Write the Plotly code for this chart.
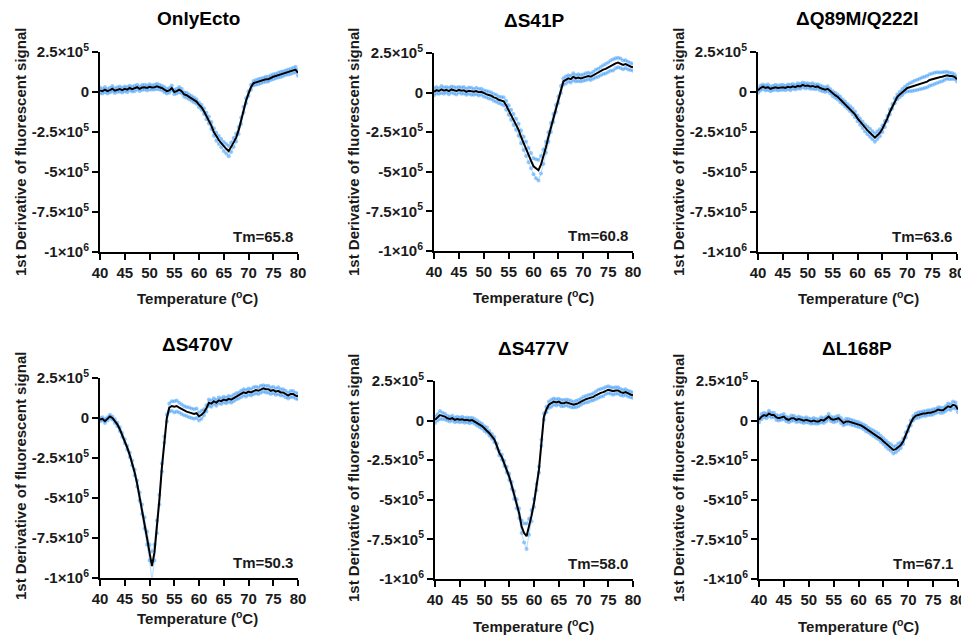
import plotly.graph_objects as go

# ---------------- data (units of 1e5) ----------------
temps = [t / 2 for t in range(80, 161)]  # 40.0 .. 80.0 °C, 0.5 °C steps

panel_titles = ["OnlyEcto", "ΔS41P", "ΔQ89M/Q222I", "ΔS470V", "ΔS477V", "ΔL168P"]
tm_values = ["65.8", "60.8", "63.6", "50.3", "58.0", "67.1"]

mean_onlyecto = [
    0.10, 0.05, 0.15, 0.05, 0.12, 0.20, 0.08, 0.15, 0.18, 0.12,
    0.20, 0.15, 0.25, 0.18, 0.22, 0.30, 0.20, 0.28, 0.30, 0.25,
    0.32, 0.28, 0.30, 0.35, 0.30, 0.25, 0.15, 0.05, 0.10, 0.25,
    0.00, 0.05, 0.15, 0.05, -0.15, -0.20, -0.30, -0.40, -0.50, -0.60,
    -0.80, -0.95, -1.20, -1.50, -1.75, -2.10, -2.50, -2.80, -3.00, -3.20,
    -3.40, -3.55, -3.70, -3.45, -3.15, -2.85, -2.40, -1.80, -1.10, -0.55,
    -0.10, 0.30, 0.55, 0.60, 0.65, 0.70, 0.75, 0.80, 0.80, 0.90,
    0.95, 1.00, 1.05, 1.10, 1.15, 1.20, 1.25, 1.28, 1.35, 1.40,
    1.20]
spread_onlyecto = [
    0.18, 0.15, 0.16, 0.14, 0.15, 0.17, 0.15, 0.14, 0.16, 0.15,
    0.15, 0.16, 0.14, 0.15, 0.17, 0.15, 0.14, 0.16, 0.15, 0.15,
    0.16, 0.14, 0.15, 0.17, 0.15, 0.14, 0.16, 0.15, 0.15, 0.16,
    0.14, 0.15, 0.17, 0.15, 0.14, 0.16, 0.15, 0.15, 0.16, 0.14,
    0.15, 0.16, 0.18, 0.20, 0.22, 0.22, 0.24, 0.25, 0.25, 0.26,
    0.28, 0.30, 0.32, 0.30, 0.28, 0.25, 0.22, 0.20, 0.18, 0.16,
    0.15, 0.16, 0.14, 0.15, 0.17, 0.15, 0.14, 0.16, 0.15, 0.15,
    0.16, 0.14, 0.15, 0.17, 0.15, 0.14, 0.16, 0.15, 0.17, 0.18,
    0.18]

mean_s41p = [
    0.05, 0.15, 0.10, 0.20, 0.12, 0.18, 0.10, 0.20, 0.15, 0.10,
    0.18, 0.12, 0.15, 0.05, 0.12, 0.08, 0.05, 0.10, 0.02, 0.05,
    -0.05, -0.10, -0.15, -0.20, -0.30, -0.35, -0.45, -0.50, -0.55, -0.80,
    -1.10, -1.40, -1.70, -2.00, -2.35, -2.80, -3.20, -3.55, -3.95, -4.30,
    -4.65, -4.80, -4.90, -4.55, -4.05, -3.45, -2.80, -2.20, -1.60, -1.00,
    -0.45, 0.20, 0.70, 0.80, 0.90, 0.85, 1.00, 0.90, 0.95, 0.90,
    0.95, 1.00, 1.05, 1.00, 1.10, 1.20, 1.25, 1.35, 1.45, 1.50,
    1.60, 1.70, 1.75, 1.85, 1.90, 1.85, 1.75, 1.80, 1.70, 1.65,
    1.60]
spread_s41p = [
    0.22, 0.20, 0.18, 0.22, 0.20, 0.18, 0.21, 0.19, 0.20, 0.22,
    0.18, 0.20, 0.21, 0.19, 0.20, 0.22, 0.18, 0.20, 0.21, 0.19,
    0.20, 0.20, 0.22, 0.20, 0.21, 0.22, 0.20, 0.22, 0.25, 0.28,
    0.30, 0.32, 0.35, 0.35, 0.38, 0.40, 0.42, 0.45, 0.45, 0.48,
    0.50, 0.60, 0.65, 0.55, 0.45, 0.35, 0.30, 0.28, 0.25, 0.22,
    0.20, 0.22, 0.20, 0.22, 0.20, 0.21, 0.22, 0.20, 0.21, 0.20,
    0.20, 0.22, 0.20, 0.21, 0.22, 0.24, 0.25, 0.26, 0.28, 0.30,
    0.30, 0.32, 0.35, 0.32, 0.30, 0.30, 0.28, 0.25, 0.24, 0.22,
    0.22]

mean_q89m = [
    0.10, 0.25, 0.33, 0.25, 0.30, 0.20, 0.25, 0.30, 0.25, 0.28,
    0.30, 0.25, 0.32, 0.28, 0.35, 0.30, 0.38, 0.35, 0.45, 0.38,
    0.40, 0.35, 0.38, 0.32, 0.35, 0.25, 0.20, 0.15, 0.20, 0.05,
    -0.10, -0.20, -0.30, -0.45, -0.60, -0.75, -0.90, -1.05, -1.20, -1.40,
    -1.65, -1.85, -2.05, -2.25, -2.40, -2.55, -2.70, -2.85, -2.70, -2.55,
    -2.30, -2.00, -1.65, -1.25, -0.90, -0.55, -0.30, -0.15, 0.00, 0.15,
    0.25, 0.30, 0.35, 0.40, 0.45, 0.50, 0.55, 0.60, 0.65, 0.75,
    0.80, 0.85, 0.90, 0.92, 0.95, 1.00, 1.05, 1.00, 1.00, 0.95,
    0.80]
spread_q89m = [
    0.15, 0.16, 0.14, 0.15, 0.17, 0.15, 0.14, 0.16, 0.15, 0.15,
    0.16, 0.14, 0.15, 0.17, 0.15, 0.14, 0.16, 0.15, 0.15, 0.16,
    0.14, 0.15, 0.17, 0.15, 0.14, 0.16, 0.15, 0.15, 0.16, 0.14,
    0.15, 0.16, 0.15, 0.17, 0.15, 0.16, 0.15, 0.16, 0.17, 0.18,
    0.18, 0.20, 0.20, 0.22, 0.24, 0.25, 0.25, 0.26, 0.24, 0.22,
    0.20, 0.18, 0.17, 0.16, 0.15, 0.16, 0.15, 0.16, 0.18, 0.18,
    0.20, 0.25, 0.28, 0.30, 0.32, 0.33, 0.35, 0.35, 0.36, 0.36,
    0.36, 0.35, 0.33, 0.30, 0.28, 0.25, 0.22, 0.20, 0.18, 0.16,
    0.15]

mean_s470v = [
    -0.10, -0.05, -0.20, -0.05, 0.10, 0.00, -0.20, -0.40, -0.70, -1.05,
    -1.45, -1.85, -2.30, -2.80, -3.40, -4.10, -4.90, -5.70, -6.55, -7.50,
    -8.40, -9.25, -8.40, -6.80, -5.10, -3.10, -1.35, 0.00, 0.65, 0.75,
    0.70, 0.75, 0.65, 0.55, 0.45, 0.40, 0.35, 0.30, 0.25, 0.30,
    0.10, 0.20, 0.35, 0.60, 0.95, 0.90, 1.05, 0.95, 1.10, 1.05,
    1.15, 1.10, 1.20, 1.15, 1.25, 1.35, 1.40, 1.50, 1.60, 1.55,
    1.65, 1.60, 1.70, 1.75, 1.70, 1.80, 1.85, 1.80, 1.80, 1.70,
    1.75, 1.65, 1.70, 1.60, 1.60, 1.50, 1.40, 1.50, 1.50, 1.40,
    1.35]
spread_s470v = [
    0.10, 0.10, 0.12, 0.10, 0.11, 0.10, 0.12, 0.11, 0.12, 0.12,
    0.12, 0.12, 0.14, 0.15, 0.18, 0.20, 0.25, 0.30, 0.35, 0.40,
    0.50, 0.90, 0.50, 0.40, 0.30, 0.25, 0.20, 0.22, 0.25, 0.30,
    0.35, 0.35, 0.30, 0.30, 0.28, 0.28, 0.30, 0.30, 0.30, 0.30,
    0.25, 0.25, 0.20, 0.20, 0.20, 0.20, 0.18, 0.18, 0.18, 0.18,
    0.18, 0.18, 0.18, 0.20, 0.20, 0.20, 0.18, 0.20, 0.20, 0.20,
    0.20, 0.20, 0.22, 0.20, 0.20, 0.22, 0.20, 0.20, 0.22, 0.20,
    0.20, 0.20, 0.22, 0.20, 0.20, 0.20, 0.18, 0.18, 0.18, 0.18,
    0.18]

mean_s477v = [
    0.05, 0.20, 0.35, 0.30, 0.25, 0.15, 0.10, 0.15, 0.05, 0.10,
    0.05, 0.08, 0.02, 0.05, 0.00, 0.03, -0.05, -0.15, -0.25, -0.35,
    -0.50, -0.60, -0.80, -1.00, -1.20, -1.60, -2.05, -2.30, -2.70, -3.10,
    -3.55, -4.10, -4.70, -5.25, -5.85, -6.70, -7.10, -7.30, -6.70, -6.00,
    -5.20, -4.20, -3.10, -1.40, 0.25, 0.70, 1.00, 1.10, 1.20, 1.15,
    1.20, 1.10, 1.10, 1.15, 1.10, 1.05, 1.00, 1.05, 1.10, 1.20,
    1.30, 1.35, 1.40, 1.45, 1.50, 1.60, 1.70, 1.75, 1.80, 1.90,
    1.95, 1.90, 1.85, 1.90, 1.90, 1.80, 1.75, 1.80, 1.70, 1.65,
    1.60]
spread_s477v = [
    0.20, 0.20, 0.25, 0.20, 0.18, 0.15, 0.15, 0.15, 0.15, 0.15,
    0.15, 0.16, 0.15, 0.15, 0.16, 0.15, 0.15, 0.16, 0.15, 0.15,
    0.15, 0.16, 0.15, 0.15, 0.16, 0.15, 0.15, 0.16, 0.17, 0.18,
    0.20, 0.22, 0.25, 0.28, 0.30, 0.40, 0.60, 0.80, 0.50, 0.35,
    0.25, 0.20, 0.20, 0.20, 0.20, 0.18, 0.20, 0.22, 0.20, 0.20,
    0.18, 0.20, 0.20, 0.18, 0.20, 0.20, 0.18, 0.20, 0.20, 0.20,
    0.20, 0.20, 0.22, 0.20, 0.22, 0.24, 0.25, 0.25, 0.25, 0.22,
    0.22, 0.20, 0.22, 0.20, 0.20, 0.20, 0.18, 0.18, 0.18, 0.18,
    0.18]

mean_l168p = [
    0.05, 0.25, 0.35, 0.30, 0.45, 0.35, 0.35, 0.20, 0.15, 0.20,
    0.25, 0.10, 0.05, 0.15, 0.15, 0.05, 0.10, 0.05, 0.00, 0.05,
    0.00, -0.05, 0.00, -0.05, -0.05, 0.05, 0.00, 0.10, 0.25, 0.10,
    0.05, 0.10, 0.15, 0.00, -0.15, -0.05, -0.05, -0.10, -0.15, -0.20,
    -0.25, -0.30, -0.40, -0.50, -0.60, -0.70, -0.80, -0.90, -1.00, -1.15,
    -1.30, -1.45, -1.60, -1.70, -1.85, -1.80, -1.65, -1.55, -1.30, -0.90,
    -0.50, -0.15, 0.15, 0.30, 0.35, 0.40, 0.45, 0.45, 0.50, 0.50,
    0.55, 0.60, 0.70, 0.65, 0.65, 0.75, 0.90, 0.85, 1.00, 0.95,
    0.70]
spread_l168p = [
    0.15, 0.16, 0.14, 0.15, 0.17, 0.15, 0.14, 0.16, 0.15, 0.15,
    0.16, 0.14, 0.15, 0.17, 0.15, 0.14, 0.16, 0.15, 0.15, 0.16,
    0.14, 0.15, 0.17, 0.15, 0.14, 0.16, 0.15, 0.15, 0.16, 0.14,
    0.15, 0.16, 0.15, 0.17, 0.15, 0.16, 0.15, 0.16, 0.15, 0.15,
    0.16, 0.14, 0.15, 0.17, 0.15, 0.16, 0.17, 0.18, 0.18, 0.18,
    0.18, 0.20, 0.20, 0.20, 0.22, 0.20, 0.20, 0.18, 0.17, 0.16,
    0.15, 0.16, 0.14, 0.15, 0.17, 0.15, 0.14, 0.16, 0.15, 0.15,
    0.16, 0.14, 0.15, 0.17, 0.15, 0.16, 0.18, 0.18, 0.20, 0.20,
    0.18]

means = [mean_onlyecto, mean_s41p, mean_q89m, mean_s470v, mean_s477v, mean_l168p]
spreads = [spread_onlyecto, spread_s41p, spread_q89m, spread_s470v, spread_s477v, spread_l168p]

x_tickvals = [40, 45, 50, 55, 60, 65, 70, 75, 80]
y_tickvals = [2.5, 0, -2.5, -5, -7.5, -10]
y_ticktext = ["2.5×10<sup>5</sup>", "0", "-2.5×10<sup>5</sup>", "-5×10<sup>5</sup>",
              "-7.5×10<sup>5</sup>", "-1×10<sup>6</sup>"]

# ---------------- layout geometry (screen pixels) ----------------
W, H = 969, 639
OFF = 8  # page body margin in front of the plot div
# plot-area boxes: (left, right, top, bottom)
boxes = [(100, 298, 52, 252), (434, 633, 53, 251), (758, 957, 52, 252),
         (100, 298, 378, 578), (435, 633, 381, 579), (759, 958, 381, 579)]
title_pos = [(198, 18), (534, 20), (857, 18), (197, 345), (533, 348), (857, 348)]
xtitle_pos = [(197, 297), (533, 296), (858, 297), (197, 617), (533, 625), (858, 625)]
ytitle_pos = [(20, 152), (353, 152), (678, 152), (20, 476), (353, 478), (678, 478)]

def px(x):
    return (x - OFF) / W

def py(y):
    return 1 - (y - OFF) / H

FONT = "Liberation Sans, Arial, sans-serif"
fig = go.Figure()
annotations = []
layout_axes = {}

for i in range(6):
    n = i + 1
    xa = "x" if n == 1 else f"x{n}"
    ya = "y" if n == 1 else f"y{n}"
    m = means[i]
    s = spreads[i]
    rep_hi = [a + b for a, b in zip(m, s)]
    rep_lo = [a - b for a, b in zip(m, s)]
    for rep in (rep_hi, rep_lo):
        fig.add_trace(go.Scatter(
            x=temps, y=rep, mode="lines+markers", xaxis=xa, yaxis=ya,
            line=dict(color="rgba(80,165,250,0.35)", width=1.2),
            marker=dict(color="rgba(70,160,250,0.55)", size=4),
            showlegend=False, hoverinfo="skip"))
    fig.add_trace(go.Scatter(
        x=temps, y=m, mode="lines", xaxis=xa, yaxis=ya,
        line=dict(color="black", width=2), showlegend=False))

    l, r, t, b = boxes[i]
    xkey = "xaxis" if n == 1 else f"xaxis{n}"
    ykey = "yaxis" if n == 1 else f"yaxis{n}"
    layout_axes[xkey] = dict(
        domain=[px(l), px(r)], anchor=ya, range=[40, 80], automargin=False,
        tickvals=x_tickvals, ticks="outside", ticklen=6, tickwidth=2,
        tickcolor="black", showline=True, linecolor="black", linewidth=2,
        showgrid=False, zeroline=False,
        tickfont=dict(family=FONT, size=15, color="#1a1a1a", weight="bold"))
    layout_axes[ykey] = dict(
        domain=[py(b), py(t)], anchor=xa, range=[-10, 2.5], automargin=False,
        tickvals=y_tickvals, ticktext=y_ticktext, ticks="outside",
        ticklen=6, tickwidth=2, tickcolor="black", showline=True,
        linecolor="black", linewidth=2, showgrid=False, zeroline=False,
        tickfont=dict(family=FONT, size=15, color="#1a1a1a", weight="bold"))

    annotations.append(dict(
        text=f"<b>{panel_titles[i]}</b>", x=px(title_pos[i][0]), y=py(title_pos[i][1]),
        xref="paper", yref="paper", showarrow=False, xanchor="center", yanchor="middle",
        font=dict(family=FONT, size=19, color="black")))
    annotations.append(dict(
        text="<b>Temperature (<sup>o</sup>C)</b>", x=px(xtitle_pos[i][0]), y=py(xtitle_pos[i][1]),
        xref="paper", yref="paper", showarrow=False, xanchor="center", yanchor="middle",
        font=dict(family=FONT, size=15, color="#1a1a1a")))
    annotations.append(dict(
        text="<b>1st Derivative of fluorescent signal</b>", x=px(ytitle_pos[i][0]),
        y=py(ytitle_pos[i][1]), xref="paper", yref="paper", showarrow=False,
        textangle=-90, xanchor="center", yanchor="middle",
        font=dict(family=FONT, size=15, color="#1a1a1a")))
    annotations.append(dict(
        text=f"<b>Tm={tm_values[i]}</b>", x=80, y=-9.05, xref=xa, yref=ya,
        showarrow=False, xanchor="right", yanchor="middle", xshift=-3,
        font=dict(family=FONT, size=15, color="#1a1a1a")))

fig.update_layout(
    width=W, height=H, margin=dict(l=0, r=0, t=0, b=0, pad=0, autoexpand=False),
    paper_bgcolor="white", plot_bgcolor="white",
    annotations=annotations, **layout_axes)

fig.write_html("out.html")
